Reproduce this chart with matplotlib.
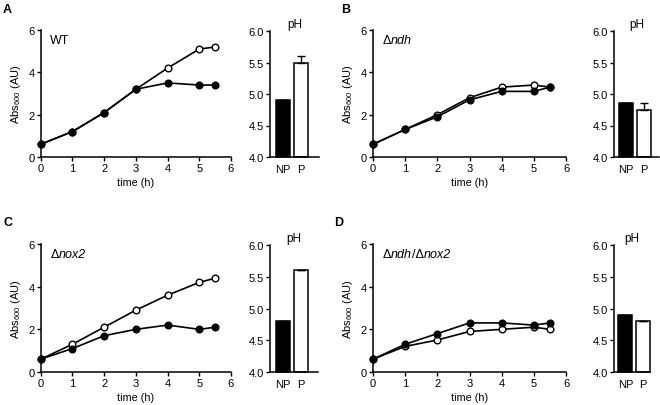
import matplotlib
matplotlib.use("Agg")
import matplotlib.pyplot as plt

plt.rcParams['font.family'] = ['Liberation Sans', 'DejaVu Sans']
plt.rcParams['mathtext.fontset'] = 'custom'
plt.rcParams['mathtext.rm'] = 'Liberation Sans'
plt.rcParams['mathtext.it'] = 'Liberation Sans:italic'
plt.rcParams['mathtext.default'] = 'regular'

# time points (h)
time_h = [0, 1, 2, 3, 4, 5, 5.5]

# growth curves, Abs600 (filled = NP, open = P)
wt_np = [0.6, 1.2, 2.1, 3.2, 3.5, 3.4, 3.4]
wt_p = [0.6, 1.2, 2.1, 3.2, 4.2, 5.1, 5.2]
ndh_np = [0.6, 1.3, 1.9, 2.7, 3.1, 3.1, 3.3]
ndh_p = [0.6, 1.3, 2.0, 2.8, 3.3, 3.4, 3.3]
nox2_np = [0.6, 1.1, 1.7, 2.0, 2.2, 2.0, 2.1]
nox2_p = [0.6, 1.3, 2.1, 2.9, 3.6, 4.2, 4.4]
dbl_np = [0.6, 1.3, 1.8, 2.3, 2.3, 2.2, 2.3]
dbl_p = [0.6, 1.2, 1.5, 1.9, 2.0, 2.1, 2.0]

# final pH
bar_labels = ["NP", "P"]
ph_wt = [4.9, 5.5]
ph_wt_err = [0.0, 0.1]
ph_ndh = [4.85, 4.75]
ph_ndh_err = [0.0, 0.1]
ph_nox2 = [4.8, 5.6]
ph_nox2_err = [0.0, 0.0]
ph_dbl = [4.9, 4.8]
ph_dbl_err = [0.0, 0.0]
ph_base = 4.0

# strain names as (text, italic?) pieces
strain_names = [
    [("WT", False)],
    [("Δ", False), ("ndh", True)],
    [("Δ", False), ("nox2", True)],
    [("Δ", False), ("ndh", True), ("/Δ", False), ("nox2", True)],
]
panel_letters = ["A", "B", "C", "D"]

W, H = 660, 406


def rect(left, right, top, bottom):
    return [left / W, 1 - bottom / H, (right - left) / W, (bottom - top) / H]


def style(ax):
    for s in ["top", "right"]:
        ax.spines[s].set_visible(False)
    for s in ["left", "bottom"]:
        ax.spines[s].set_linewidth(1.1)
    ax.tick_params(direction="out", length=3, width=1.0, labelsize=8, pad=1.5)


def draw_name(ax, pieces):
    # chain text pieces so upright and italic parts sit side by side
    prev = None
    for txt, italic in pieces:
        st = 'italic' if italic else 'normal'
        if prev is None:
            prev = ax.text(0.05, 0.9, txt, transform=ax.transAxes, fontsize=9,
                           style=st, ha='left', va='baseline')
        else:
            prev = ax.annotate(txt, xy=(1, 0), xycoords=prev, fontsize=9,
                               style=st, ha='left', va='bottom')


def line_panel(ax, np_vals, p_vals, pieces):
    ax.plot(time_h, p_vals, '-o', color='black', lw=1.2, ms=4.8,
            mfc='white', mec='black', mew=1.0, zorder=3, clip_on=False)
    ax.plot(time_h, np_vals, '-o', color='black', lw=1.2, ms=4.8,
            mfc='black', mec='black', zorder=4, clip_on=False)
    ax.set_xlim(0, 6)
    ax.set_ylim(0, 6)
    ax.set_xticks(range(0, 7))
    ax.set_yticks([0, 2, 4, 6])
    ax.set_xlabel("time (h)", fontsize=7.8, labelpad=3)
    ax.set_ylabel("Abs$_{600}$ (AU)", fontsize=8, labelpad=4)
    draw_name(ax, pieces)
    style(ax)


def bar_panel(ax, vals, errs, xmin, xmax):
    yerr = [[0, 0], errs]
    heights = [v - ph_base for v in vals]
    bars = ax.bar([0, 1], heights, bottom=ph_base, width=0.78,
                  color=['black', 'white'], edgecolor='black', linewidth=1.1,
                  yerr=yerr,
                  error_kw=dict(ecolor='black', elinewidth=1.0, capsize=3, capthick=1.0))
    for b in bars:
        b.set_clip_on(False)
    ax.set_xlim(xmin, xmax)
    ax.set_ylim(4.0, 6.0)
    ax.set_yticks([4.0, 4.5, 5.0, 5.5, 6.0])
    ax.set_yticklabels(["4.0", "4.5", "5.0", "5.5", "6.0"])
    ax.set_xticks([0, 1])
    ax.set_xticklabels(bar_labels)
    ax.set_title("pH", fontsize=8.5, pad=3)
    style(ax)
    ax.tick_params(axis='x', length=0, pad=5)


fig = plt.figure(figsize=(6.6, 4.06), dpi=100)

line_rects = [rect(40.7, 231, 31, 158), rect(373, 566, 31, 158),
              rect(40.7, 231, 245, 373), rect(373, 566, 245, 373)]
bar_rects = [rect(270, 319, 32, 158), rect(614, 659, 32, 158),
             rect(270, 318, 246, 373), rect(614, 650, 246, 373)]
bar_xlims = [(-0.72, 2.0), (-0.64, 1.86), (-0.72, 1.94), (-0.64, 1.39)]

curves = [(wt_np, wt_p), (ndh_np, ndh_p), (nox2_np, nox2_p), (dbl_np, dbl_p)]
phs = [(ph_wt, ph_wt_err), (ph_ndh, ph_ndh_err),
       (ph_nox2, ph_nox2_err), (ph_dbl, ph_dbl_err)]

for i in range(4):
    ax1 = fig.add_axes(line_rects[i])
    line_panel(ax1, curves[i][0], curves[i][1], strain_names[i])
    ax2 = fig.add_axes(bar_rects[i])
    bar_panel(ax2, phs[i][0], phs[i][1], *bar_xlims[i])

letter_pos = [(3, 4), (341, 4), (3, 217), (334, 217)]
for letter, (px, py) in zip(panel_letters, letter_pos):
    fig.text(px / W, 1 - py / H, letter, fontsize=9, fontweight='bold',
             ha='left', va='top')

fig.savefig("out.png", dpi=100)
